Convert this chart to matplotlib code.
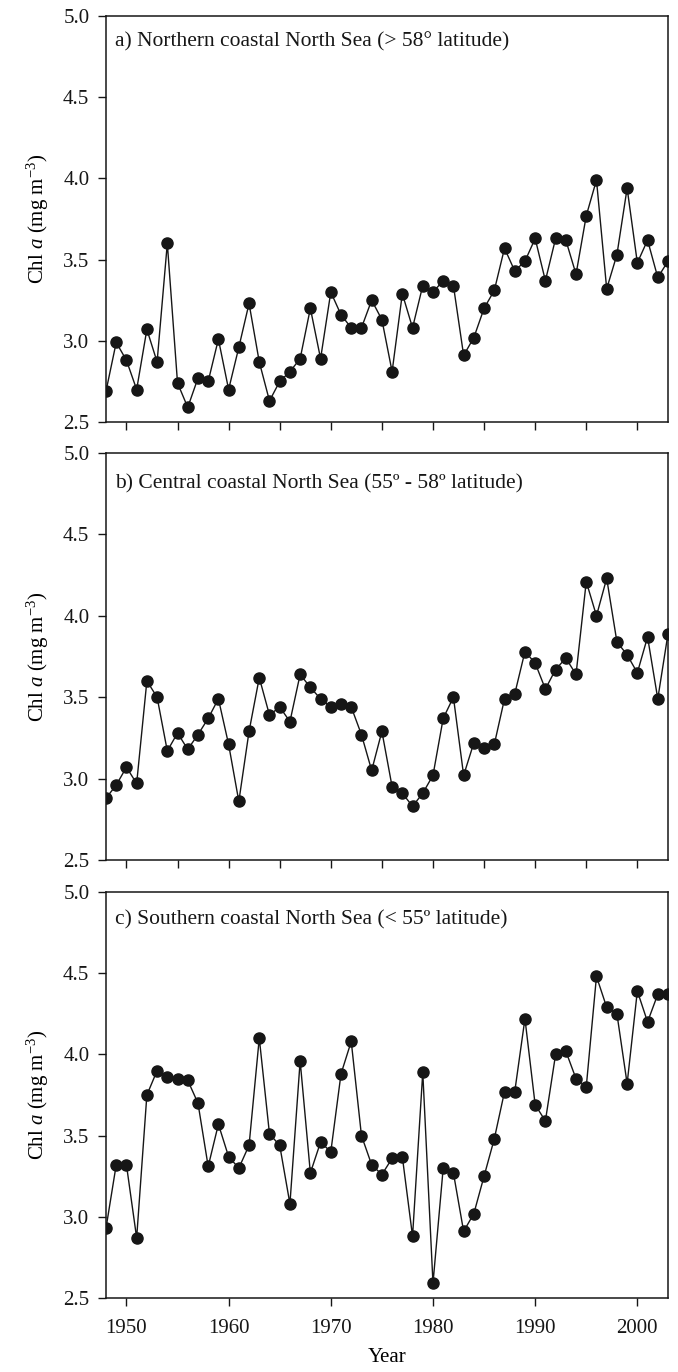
import matplotlib
matplotlib.use("Agg")
import matplotlib.pyplot as plt
from matplotlib.ticker import MultipleLocator

plt.rcParams['font.family'] = ['Liberation Serif', 'DejaVu Serif']
plt.rcParams['mathtext.fontset'] = 'custom'
plt.rcParams['mathtext.rm'] = 'Liberation Serif'
plt.rcParams['mathtext.it'] = 'Liberation Serif:italic'

years = list(range(1948, 2004))

north = [2.69, 2.99, 2.88, 2.70, 3.07, 2.87, 3.60, 2.74, 2.59, 2.77,
         2.75, 3.01, 2.70, 2.96, 3.23, 2.87, 2.63, 2.75, 2.81, 2.89,
         3.20, 2.89, 3.30, 3.16, 3.08, 3.08, 3.25, 3.13, 2.81, 3.29,
         3.08, 3.34, 3.30, 3.37, 3.34, 2.91, 3.02, 3.20, 3.31, 3.57,
         3.43, 3.49, 3.63, 3.37, 3.63, 3.62, 3.41, 3.77, 3.99, 3.32,
         3.53, 3.94, 3.48, 3.62, 3.39, 3.49]

central = [2.88, 2.96, 3.07, 2.97, 3.60, 3.50, 3.17, 3.28, 3.18, 3.27,
           3.37, 3.49, 3.21, 2.86, 3.29, 3.62, 3.39, 3.44, 3.35, 3.64,
           3.56, 3.49, 3.44, 3.46, 3.44, 3.27, 3.05, 3.29, 2.95, 2.91,
           2.83, 2.91, 3.02, 3.37, 3.50, 3.02, 3.22, 3.19, 3.21, 3.49,
           3.52, 3.78, 3.71, 3.55, 3.67, 3.74, 3.64, 4.21, 4.00, 4.23,
           3.84, 3.76, 3.65, 3.87, 3.49, 3.89]

south = [2.93, 3.32, 3.32, 2.87, 3.75, 3.90, 3.86, 3.85, 3.84, 3.70,
         3.31, 3.57, 3.37, 3.30, 3.44, 4.10, 3.51, 3.44, 3.08, 3.96,
         3.27, 3.46, 3.40, 3.88, 4.08, 3.50, 3.32, 3.26, 3.36, 3.37,
         2.88, 3.89, 2.59, 3.30, 3.27, 2.91, 3.02, 3.25, 3.48, 3.77,
         3.77, 4.22, 3.69, 3.59, 4.00, 4.02, 3.85, 3.80, 4.48, 4.29,
         4.25, 3.82, 4.39, 4.20, 4.37, 4.37]

titles = ["a) Northern coastal North Sea (> 58° latitude)",
          "b) Central coastal North Sea (55º - 58º latitude)",
          "c) Southern coastal North Sea (< 55º latitude)"]
series = [north, central, south]
yticks = [2.5, 3.0, 3.5, 4.0, 4.5, 5.0]
xticklabels_years = [1950, 1960, 1970, 1980, 1990, 2000]

W, H = 678, 1372
fig = plt.figure(figsize=(W / 100, H / 100), dpi=100)

left, right = 106, 668
panels = [(16, 422), (453, 860), (892, 1298)]
title_offsets = [26, 31, 28]
col = '#161616'
fs = 15

for i, ((top, bot), data, title) in enumerate(zip(panels, series, titles)):
    ax = fig.add_axes([left / W, 1 - bot / H, (right - left) / W, (bot - top) / H])
    ax.plot(years, data, color=col, lw=1.0, marker='o', ms=8,
            mfc=col, mec=col, zorder=3)
    ax.set_xlim(1948, 2003)
    ax.set_ylim(2.5, 5.0)
    ax.set_yticks(yticks)
    ax.set_yticklabels([f"{v:.1f}" for v in yticks])
    if i < 2:
        ax.xaxis.set_major_locator(MultipleLocator(5))
        ax.set_xticklabels([])
    else:
        ax.set_xticks(xticklabels_years)
        ax.set_xticklabels([str(y) for y in xticklabels_years])
        ax.set_xlabel("Year", fontsize=fs, labelpad=7)
    ax.tick_params(axis='both', direction='out', length=6, width=1.0,
                   labelsize=fs, colors=col, top=False, right=False)
    ax.tick_params(axis='y', pad=6)
    ax.tick_params(axis='x', pad=9)
    for s in ax.spines.values():
        s.set_linewidth(1.1)
        s.set_color(col)
    ax.set_ylabel("Chl $\\mathit{a}$ (mg m$^{-3}$)", fontsize=fs, labelpad=9)
    ax.text(0.016, 1 - title_offsets[i] / (bot - top), title,
            transform=ax.transAxes, fontsize=15.5, va='center', ha='left',
            color=col)

fig.savefig("out.png", dpi=100, facecolor='white')
